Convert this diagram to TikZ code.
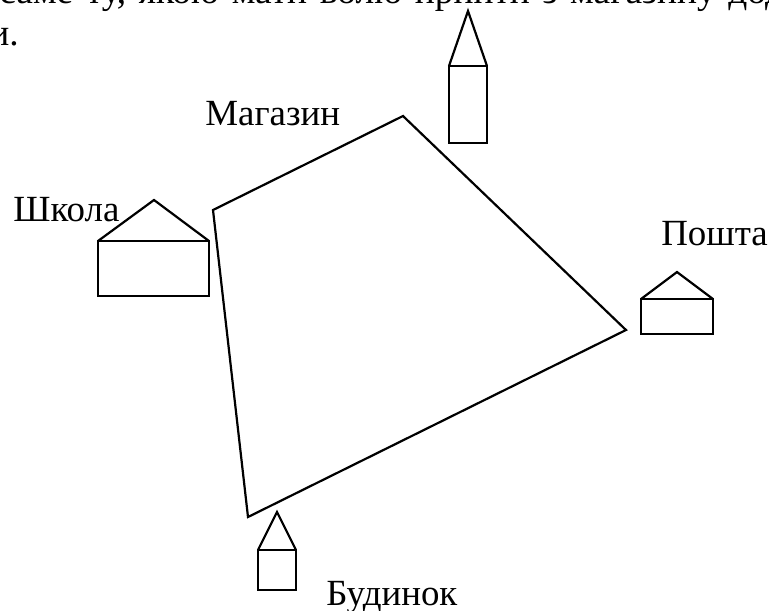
\documentclass[tikz,border=0pt]{standalone}
\usepackage{fontspec}
\setmainfont{Liberation Serif}
\usepackage{xcolor}
\usetikzlibrary{positioning}

\begin{document}
\begin{tikzpicture}[x=0.02cm, y=-0.02cm]
\tikzset{
  figline/.style={line width=0.044cm, line join=miter},
  placelabel/.style={font=\fontsize{21}{25}\selectfont, anchor=base west, inner sep=0pt},
  booktext/.style={font=\fontsize{21.3}{25}\selectfont, anchor=base west, inner sep=0pt}
}
\useasboundingbox (0, 0) rectangle (769, 610);
\clip (0, 0) rectangle (769, 610);

% text of the page
\node[booktext] (line1) at (-1, 3) {\spaceskip=0.254cm саме ту, якою мати волю прийти з магазину додому};
\node[booktext] (line2) at (-11, 45) {и.};

% route
\coordinate (shopcorner) at (403, 116);
\coordinate (schoolcorner) at (213, 210);
\coordinate (homecorner) at (248, 517);
\coordinate (postcorner) at (626, 330);
\draw[figline] (schoolcorner) -- (shopcorner) -- (postcorner) -- (homecorner) -- cycle;

% tower
\draw[figline] (449, 66) rectangle (487, 143);
\draw[figline] (449, 66) -- (468, 11) -- (487, 66);

% school
\draw[figline] (98, 241) rectangle (209, 296);
\draw[figline] (98, 241) -- (154, 200) -- (209, 241);

% post
\draw[figline] (641, 299) rectangle (713, 334);
\draw[figline] (641, 299) -- (677, 272) -- (713, 299);

% home
\draw[figline] (258, 550) rectangle (296, 590);
\draw[figline] (258, 550) -- (277, 512) -- (296, 550);

\node[placelabel] (shop) at (205, 125) {Магазин};
\node[placelabel] (school) at (13, 221) {Школа};
\node[placelabel] (post) at (661, 245) {Пошта};
\node[placelabel] (home) at (326, 605) {Будинок};

\end{tikzpicture}
\end{document}
